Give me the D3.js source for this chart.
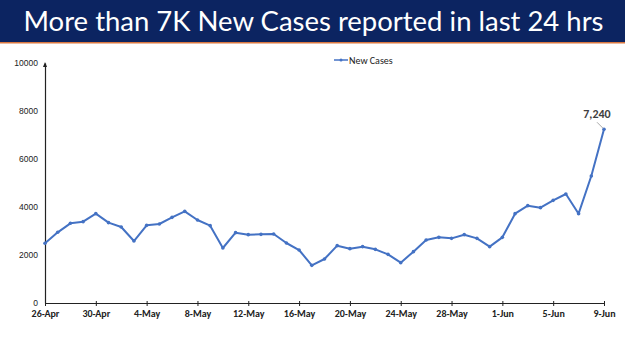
<!DOCTYPE html>
<html>
<head>
<meta charset="utf-8">
<script src="https://cdn.jsdelivr.net/npm/d3@7"></script>
<style>
  body { margin: 0; background: #fff; }
  svg { display: block; }
</style>
</head>
<body>
<div id="chart"></div>
<script>
// Data
const dates = [
  '26-Apr', '27-Apr', '28-Apr', '29-Apr', '30-Apr',
  '1-May', '2-May', '3-May', '4-May', '5-May', '6-May', '7-May', '8-May', '9-May', '10-May',
  '11-May', '12-May', '13-May', '14-May', '15-May', '16-May', '17-May', '18-May', '19-May', '20-May',
  '21-May', '22-May', '23-May', '24-May', '25-May', '26-May', '27-May', '28-May', '29-May', '30-May', '31-May',
  '1-Jun', '2-Jun', '3-Jun', '4-Jun', '5-Jun', '6-Jun', '7-Jun', '8-Jun', '9-Jun'
];
const newCases = [
  2487, 2945, 3320, 3390, 3722,
  3347, 3167, 2583, 3236, 3292, 3569, 3819, 3458, 3222, 2292,
  2931, 2847, 2861, 2875, 2500, 2208, 1569, 1833, 2389, 2264,
  2347, 2236, 2028, 1681, 2139, 2625, 2736, 2694, 2847, 2694, 2347,
  2736, 3722, 4056, 3972, 4278, 4542, 3722, 5292, 7240
];
const yTicks = [0, 2000, 4000, 6000, 8000, 10000];
const xTickLabels = ['26-Apr', '30-Apr', '4-May', '8-May', '12-May', '16-May', '20-May', '24-May', '28-May', '1-Jun', '5-Jun', '9-Jun'];
const title = 'More than 7K New Cases reported in last 24 hrs';
const seriesName = 'New Cases';

const width = 625, height = 351;
const margin = { top: 63, right: 21, bottom: 48, left: 45 };
const innerWidth = width - margin.left - margin.right;
const innerHeight = height - margin.top - margin.bottom;
const lineColor = '#4472c4';

const svg = d3.select('#chart').append('svg')
  .attr('width', width)
  .attr('height', height);

// Title banner
svg.append('rect')
  .attr('x', 0).attr('y', 0)
  .attr('width', width).attr('height', 42)
  .attr('fill', '#0c2461');
svg.append('rect')
  .attr('x', 0).attr('y', 42)
  .attr('width', width).attr('height', 1.5)
  .attr('fill', '#d9773f');
svg.append('text')
  .attr('x', width / 2 + 1)
  .attr('y', 31)
  .attr('text-anchor', 'middle')
  .attr('fill', '#fff')
  .style('font-family', 'Lato, "Open Sans", sans-serif')
  .style('font-size', '27px')
  .attr('textLength', 580)
  .attr('lengthAdjust', 'spacingAndGlyphs')
  .text(title);

const g = svg.append('g')
  .attr('transform', `translate(${margin.left},${margin.top})`);

// Scales
const xScale = d3.scalePoint()
  .domain(dates)
  .range([0, innerWidth]);

const yScale = d3.scaleLinear()
  .domain([0, 10000])
  .range([innerHeight, 0]);

// Y axis
const yAxis = g.append('g')
  .attr('class', 'y-axis')
  .call(d3.axisLeft(yScale).tickValues(yTicks).tickSize(0).tickPadding(7).tickFormat(d3.format('d')));
yAxis.select('.domain').attr('stroke', '#222').attr('stroke-width', 1.2);
yAxis.selectAll('text')
  .style('font-family', '"Liberation Sans", Arial, sans-serif')
  .style('font-size', '8.5px')
  .attr('fill', '#222');

// small arrow at top of y axis
g.append('path')
  .attr('d', `M-2,${yScale(10000) + 4} L0,${yScale(10000) - 1} L2,${yScale(10000) + 4} Z`)
  .attr('fill', '#222');

// X axis
const xAxis = g.append('g')
  .attr('class', 'x-axis')
  .attr('transform', `translate(0,${innerHeight})`)
  .call(d3.axisBottom(xScale).tickValues(xTickLabels).tickSizeInner(-3).tickSizeOuter(0).tickPadding(7));
xAxis.select('.domain').attr('stroke', '#222').attr('stroke-width', 1.2);
xAxis.selectAll('.tick line').attr('stroke', '#222').attr('y1', 3).attr('y2', -2);
xAxis.selectAll('text')
  .style('font-family', 'Carlito, Lato, "Open Sans", sans-serif')
  .style('font-size', '10px')
  .style('font-weight', 'bold')
  .attr('fill', '#222');

// Line
const line = d3.line()
  .x((d, i) => xScale(dates[i]))
  .y(d => yScale(d));

g.append('path')
  .datum(newCases)
  .attr('fill', 'none')
  .attr('stroke', lineColor)
  .attr('stroke-width', 2)
  .attr('stroke-linejoin', 'round')
  .attr('d', line);

g.selectAll('.point')
  .data(newCases)
  .enter()
  .append('circle')
  .attr('class', 'point')
  .attr('cx', (d, i) => xScale(dates[i]))
  .attr('cy', d => yScale(d))
  .attr('r', 1.8)
  .attr('fill', lineColor);

// Data label for the last point
const lastIdx = newCases.length - 1;
const lx = xScale(dates[lastIdx]);
const ly = yScale(newCases[lastIdx]);
g.append('line')
  .attr('x1', lx - 7).attr('y1', ly - 7)
  .attr('x2', lx - 1).attr('y2', ly - 1)
  .attr('stroke', '#aaa')
  .attr('stroke-width', 1);
g.append('text')
  .attr('x', lx - 7)
  .attr('y', ly - 11)
  .attr('text-anchor', 'middle')
  .style('font-family', 'Carlito, Lato, "Open Sans", sans-serif')
  .style('font-size', '12px')
  .style('font-weight', 'bold')
  .attr('fill', '#404040')
  .text(d3.format(',')(newCases[lastIdx]));

// Legend
const legend = svg.append('g')
  .attr('transform', 'translate(334,60)');
legend.append('line')
  .attr('x1', 0).attr('x2', 14)
  .attr('y1', 0).attr('y2', 0)
  .attr('stroke', lineColor)
  .attr('stroke-width', 1.5);
legend.append('circle')
  .attr('cx', 7).attr('cy', 0).attr('r', 1.5)
  .attr('fill', lineColor);
legend.append('text')
  .attr('x', 15)
  .attr('y', 3.5)
  .style('font-family', 'Carlito, Lato, "Open Sans", sans-serif')
  .style('font-size', '10px')
  .attr('fill', '#222')
  .text(seriesName);
</script>
</body>
</html>
